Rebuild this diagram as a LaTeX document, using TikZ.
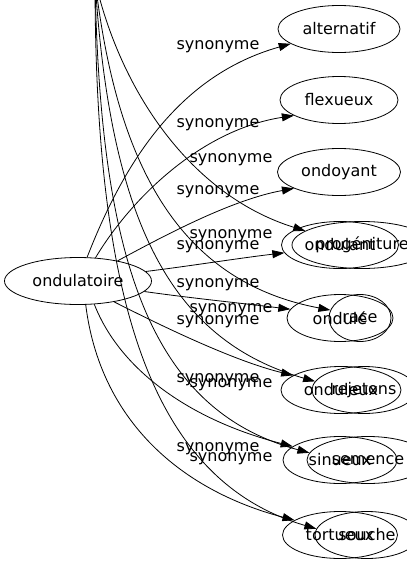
\documentclass[tikz,border=0pt]{standalone}
\usepackage{fontspec}
\setmainfont{DejaVu Sans}
\usetikzlibrary{shapes.geometric}
\usetikzlibrary{arrows.meta}

\begin{document}
\begin{tikzpicture}[x=1pt, y=-1pt, line width=0.8pt,
            >={Triangle[length=12pt,width=8pt]},
            ovalnode/.style={ellipse, draw=black, inner sep=0pt, minimum height=47pt, font=\fontsize{16}{19}\selectfont},
            synlabel/.style={inner sep=0pt, font=\fontsize{16}{19}\selectfont},
        ]
        \useasboundingbox (0,0) rectangle (407,563);
        \clip (0,0) rectangle (407,563);

        % Nodes.
        \node[ovalnode, minimum width=147pt] (ondulatoire) at (78,281)  {ondulatoire};
        \node[ovalnode, minimum width=122pt] (alternatif)  at (339,29)  {alternatif};
        \node[ovalnode, minimum width=118pt] (flexueux)    at (339,100) {flexueux};
        \node[ovalnode, minimum width=123pt] (ondoyant)    at (339,172) {ondoyant};
        \node[ovalnode, minimum width=117pt] (ondulant)    at (340,245) {ondulant};
        \node[ovalnode, minimum width=106pt] (ondule)      at (340,318) {ondulé};
        \node[ovalnode, minimum width=120pt] (onduleux)    at (341,390) {onduleux};
        \node[ovalnode, minimum width=114pt] (sinueux)     at (340,460) {sinueux};
        \node[ovalnode, minimum width=115pt] (tortueux)    at (340,535) {tortueux};

        % Second graph, its source lies above the frame.
        \coordinate (hidden_source) at (95,-20);
        \node[ovalnode, minimum width=140pt] (progeniture) at (362,245) {progéniture};
        \node[ovalnode, minimum width=62pt]  (race)        at (360,318) {race};
        \node[ovalnode, minimum width=104pt] (rejetons)    at (364,390) {rejetons};
        \node[ovalnode, minimum width=122pt] (semence)     at (368,460) {semence};
        \node[ovalnode, minimum width=104pt] (souche)      at (367,535) {souche};

        % Labels.
        \node[synlabel] (lbl_alternatif)  at (218,47)  {synonyme};
        \node[synlabel] (lbl_flexueux)    at (218,125) {synonyme};
        \node[synlabel] (lbl_ondoyant)    at (218,192) {synonyme};
        \node[synlabel] (lbl_ondulant)    at (218,247) {synonyme};
        \node[synlabel] (lbl_ondule)      at (218,285) {synonyme};
        \node[synlabel] (lbl_onduleux)    at (218,322) {synonyme};
        \node[synlabel] (lbl_sinueux)     at (218,380) {synonyme};
        \node[synlabel] (lbl_tortueux)    at (218,449) {synonyme};
        \node[synlabel] (lbl_progeniture) at (231,160) {synonyme};
        \node[synlabel] (lbl_race)        at (231,236) {synonyme};
        \node[synlabel] (lbl_rejetons)    at (231,310) {synonyme};
        \node[synlabel] (lbl_semence)     at (231,385) {synonyme};
        \node[synlabel] (lbl_souche)      at (231,459) {synonyme};

        % Lines.
        \draw[->] (ondulatoire.69)  .. controls (125,160) and (180,75)  .. (alternatif.197);
        \draw[->] (ondulatoire.53)  .. controls (130,200) and (200,130) .. (flexueux.199);
        \draw[->] (ondulatoire.27)  .. controls (160,238) and (230,200) .. (ondoyant.200);
        \draw[->] (ondulatoire.8)   .. controls (190,266) and (240,258) .. (ondulant.188);
        \draw[->] (ondulatoire.-9)  .. controls (190,298) and (240,303) .. (ondule.170);
        \draw[->] (ondulatoire.-30) .. controls (150,320) and (230,360) .. (onduleux.163);
        \draw[->] (ondulatoire.-55) .. controls (120,370) and (190,420) .. (sinueux.164);
        \draw[->] (ondulatoire.-72) .. controls (100,420) and (180,490) .. (tortueux.162);

        \draw[->] (hidden_source) .. controls (120,90)  and (190,195) .. (progeniture.166);
        \draw[->] (hidden_source) .. controls (115,150) and (170,280) .. (race.165);
        \draw[->] (hidden_source) .. controls (110,220) and (170,340) .. (rejetons.170);
        \draw[->] (hidden_source) .. controls (100,260) and (150,410) .. (semence.173);
        \draw[->] (hidden_source) .. controls (95,300)  and (150,480) .. (souche.173);
    \end{tikzpicture}
\end{document}
